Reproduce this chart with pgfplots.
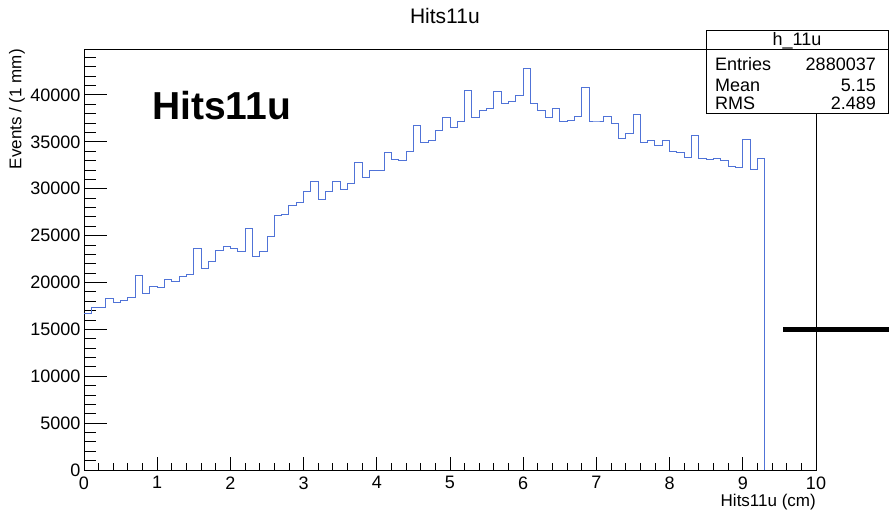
\documentclass[border=0pt]{standalone}
\usepackage{fontspec}
\setmainfont{Liberation Sans}
\usepackage{pgfplots}
\pgfplotsset{compat=1.18}
\definecolor{histblue}{RGB}{80,115,215}

% common frame of the histogram pad
\pgfplotsset{
  rootframe/.style={
    scale only axis, width=732pt, height=421pt,
    at={(84pt,-470pt)}, anchor=south west,
    xmin=0, xmax=10, ymin=0, ymax=44900,
    axis line style={line width=0.9pt, black},
    tick style={line width=0.9pt, black},
    tick align=inside, tick pos=left,
    /pgf/number format/assume math mode=true,
    /pgf/number format/1000 sep={},
    scaled ticks=false,
    ticklabel style={font=\fontsize{18}{18}\selectfont},
  }
}

\begin{document}
\begin{tikzpicture}
\path[use as bounding box] (0pt,0pt) rectangle (889pt,-513pt);

% y axis with its long ticks
\begin{axis}[rootframe,
  xtick=\empty,
  ytick={0,5000,...,40000},
  minor ytick={1000,2000,...,44000},
  major tick length=23pt, minor tick length=12pt]
\end{axis}

% x axis, histogram and labels
\begin{axis}[rootframe,
  ytick=\empty,
  xtick={0,1,...,10},
  minor xtick={0.2,0.4,...,9.9},
  xticklabel style={yshift=-3pt},
  major tick length=13pt, minor tick length=7pt,
  clip=false,
  title={Hits11u},
  title style={at={(axis description cs:0.493,1.065)}, anchor=center, inner sep=0pt, font=\fontsize{21}{21}\selectfont},
  xlabel={Hits11u (cm)},
  xlabel style={at={(axis description cs:1,-0.0865)}, anchor=base east, inner sep=0pt, font=\fontsize{17}{17}\selectfont},
  ylabel={Events / (1 mm)},
  ylabel style={at={(axis description cs:-0.0915,1)}, anchor=east, inner sep=0pt, font=\fontsize{17}{17}\selectfont},
]
\addplot[const plot, draw=histblue, line width=1pt] coordinates {
(0.0,16680) (0.1,17300) (0.2,17350) (0.3,18290) (0.4,17890)
(0.5,18070) (0.6,18390) (0.7,20750) (0.8,18820) (0.9,19570)
(1.0,19460) (1.1,20360) (1.2,20140) (1.3,20680) (1.4,20820)
(1.5,23570) (1.6,21460) (1.7,22250) (1.8,23360) (1.9,23820)
(2.0,23570) (2.1,23320) (2.2,25790) (2.3,22820) (2.4,23260)
(2.5,24860) (2.6,27100) (2.7,27240) (2.8,28210) (2.9,28530)
(3.0,29670) (3.1,30730) (3.2,28880) (3.3,29700) (3.4,30730)
(3.5,29920) (3.6,30520) (3.7,32760) (3.8,31200) (3.9,31900)
(4.0,31950) (4.1,33900) (4.2,33120) (4.3,32980) (4.4,33940)
(4.5,36720) (4.6,34940) (4.7,35170) (4.8,36250) (4.9,37640)
(5.0,36540) (5.1,37220) (5.2,40460) (5.3,37570) (5.4,38360)
(5.5,38570) (5.6,40350) (5.7,39100) (5.8,39320) (5.9,39920)
(6.0,42770) (6.1,39070) (6.2,38320) (6.3,37610) (6.4,38600)
(6.5,37140) (6.6,37250) (6.7,37680) (6.8,40810) (6.9,37220)
(7.0,37220) (7.1,37680) (7.2,36970) (7.3,35360) (7.4,35930)
(7.5,37960) (7.6,34970) (7.7,35190) (7.8,34620) (7.9,35190)
(8.0,34010) (8.1,33900) (8.2,33370) (8.3,35720) (8.4,33190)
(8.5,33080) (8.6,33260) (8.7,32980) (8.8,32370) (8.9,32230)
(9.0,35220) (9.1,32020) (9.2,33260) (9.3,33260) (9.3,0)
};
% thick marker line at 15000
\draw[line width=4.5pt, black] (axis cs:9.55,15000) -- (axis cs:11,15000);
\node[anchor=base west, inner sep=0pt, font=\fontsize{39}{39}\selectfont\bfseries]
  at (axis description cs:0.0929,0.8314) {Hits11u};
\end{axis}

% statistics box
\fill[white] (706pt,-30pt) rectangle (888.5pt,-113.5pt);
\draw[line width=0.9pt, black] (706pt,-30pt) rectangle (888.5pt,-113.5pt);
\draw[line width=0.9pt, black] (706pt,-49pt) -- (888.5pt,-49pt);
\begin{scope}[every node/.style={inner sep=0pt, font=\fontsize{18}{18}\selectfont}]
\node[anchor=base] at (797pt,-46pt) {h\_11u};
\node[anchor=base west] at (715pt,-71pt) {Entries};
\node[anchor=base east] at (876pt,-71pt) {2880037};
\node[anchor=base west] at (715pt,-91.5pt) {Mean};
\node[anchor=base east] at (876pt,-91.5pt) {5.15};
\node[anchor=base west] at (715pt,-110pt) {RMS};
\node[anchor=base east] at (876pt,-110pt) {2.489};
\end{scope}
\end{tikzpicture}
\end{document}
